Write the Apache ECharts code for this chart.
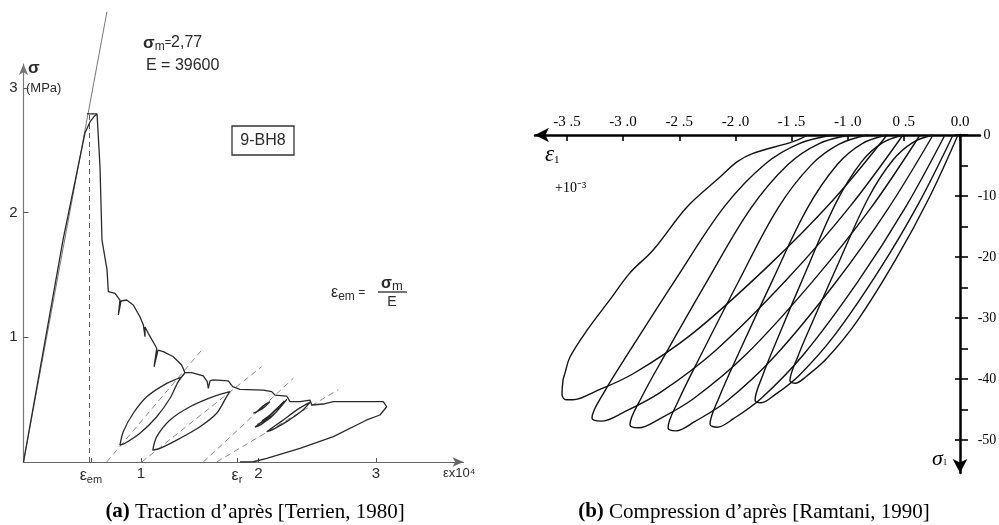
<!DOCTYPE html>
<html><head><meta charset="utf-8">
<script src="https://cdn.jsdelivr.net/npm/echarts@6/dist/echarts.min.js"></script>
<style>html,body{margin:0;padding:0;background:#fff}#c{width:999px;height:525px}</style>
</head><body><div id="c"></div>
<script>
// ---------- tick labels ----------
const leftXTickValues = [0.574, 1, 1.817, 2, 3];
const leftXTickLabels = ['{e|ε}{s|em}', '1', '{e|ε}{s|r}', '2', '3'];
const leftYTickValues = [1, 2, 3];
const leftYTickLabels = ['1', '2', '3'];
const rightXTickValues = [-3.5, -3, -2.5, -2, -1.5, -1, -0.5, 0];
const rightXTickLabels = ['-3 .5', '-3 .0', '-2 .5', '-2 .0', '-1 .5', '-1 .0', '0 .5', '0.0'];
const rightYTickValues = [0, -10, -20, -30, -40, -50];
const rightYTickLabels = ['{c|0}', '{c|-10}', '{c|-20}', '{c|-30}', '{c|-40}', '{c|-50}'];
const rightYMinorTickValues = [-5, -15, -25, -35, -45];

// ---------- (a) traction : strain x1e-4, stress MPa ----------
const leftEnvelope = [[0,0],[0.336,1.780],[0.523,2.638],[0.566,2.727],[0.600,2.770],[0.626,2.791],[0.651,2.366],[0.668,1.780],[0.711,1.540],[0.722,1.366],[0.779,1.353],[0.821,1.299],[0.807,1.179],[0.830,1.291],[0.878,1.299],[0.934,1.259],[0.991,1.165],[1.020,1.099],[1.034,1.005],[1.034,1.083],[1.062,1.032],[1.134,0.912],[1.111,0.764],[1.145,0.898],[1.190,0.885],[1.275,0.844],[1.346,0.778],[1.374,0.716],[1.431,0.716],[1.530,0.690],[1.564,0.644],[1.573,0.591],[1.587,0.650],[1.615,0.658],[1.743,0.650],[1.780,0.604],[1.843,0.583],[2.041,0.577],[2.112,0.564],[2.140,0.537],[2.240,0.529],[2.268,0.484],[2.353,0.484],[2.438,0.497],[2.453,0.457],[2.551,0.465],[2.637,0.484],[2.779,0.484],[3.062,0.484],[3.091,0.443],[3.034,0.377],[2.921,0.337],[2.637,0.203],[2.353,0.110],[2.070,0.030],[1.956,0.002],[1.843,0]];
const leftPeakFlat = [[0.540,2.791],[0.626,2.791]];
const leftLoop1 = [[1.374,0.716],[1.346,0.684],[1.219,0.631],[1.049,0.524],[0.934,0.391],[0.849,0.243],[0.821,0.136],[0.864,0.150],[0.991,0.230],[1.134,0.363],[1.247,0.511],[1.317,0.644],[1.374,0.716]];
const leftLoop2 = [[1.757,0.564],[1.615,0.524],[1.417,0.443],[1.247,0.337],[1.134,0.203],[1.100,0.096],[1.162,0.110],[1.332,0.190],[1.502,0.283],[1.644,0.391],[1.729,0.524],[1.757,0.564]];
const leftLoop3 = [[2.098,0.484],[2.04,0.45],[1.98,0.40],[1.956,0.391],[1.99,0.405],[2.05,0.44],[2.098,0.484]];
const leftLoop4 = [[2.24,0.50],[2.15,0.42],[2.04,0.33],[1.97,0.28],[2.02,0.30],[2.12,0.37],[2.24,0.50],[2.13,0.40],[2.03,0.32],[1.99,0.30],[2.05,0.33],[2.15,0.40],[2.22,0.49],[2.10,0.38],[2.03,0.33],[2.06,0.35],[2.14,0.41],[2.20,0.47]];
const leftLoop5 = [[2.44,0.48],[2.33,0.42],[2.20,0.33],[2.07,0.243],[2.12,0.26],[2.25,0.33],[2.37,0.41],[2.44,0.48]];
const leftSlopeE = [[0,0],[0.71,3.61]];
const leftEpsEm = [[0.562,0],[0.562,2.791]];
const leftDash1 = [[0.708,0],[1.517,0.898]];
const leftDash2 = [[1.006,0],[2.027,0.764]];
const leftDash3 = [[1.530,0],[2.296,0.671]];
const leftDash4 = [[1.644,0],[2.679,0.580]];

// ---------- (b) compression : strain x1e-3, stress MPa ----------
const rightLoopA = [[-0.650,0],[-1.142,-10.9],[-1.721,-21.7],[-2.386,-32.6],[-2.907,-39.1],[-3.255,-42.1],[-3.446,-43.4],[-3.508,-43.4],[-3.544,-42.6],[-3.535,-40.2],[-3.517,-39.0],[-3.473,-36.4],[-3.321,-32.0],[-3.117,-27.0],[-2.939,-22.6],[-2.734,-18.9],[-2.431,-11.8],[-2.137,-6.9],[-1.986,-4.4],[-1.843,-3.0],[-1.487,-1.1],[-1.354,0]];
const rightLoopB = [[-0.508,0],[-0.979,-11.7],[-1.533,-23.5],[-2.169,-35.2],[-2.668,-42.2],[-3.000,-45.5],[-3.194,-46.9],[-3.277,-46.4],[-3.170,-42.2],[-2.934,-35.2],[-2.526,-23.5],[-2.097,-11.7],[-1.732,-4.7],[-1.431,-1.4],[-1.131,0]];
const rightLoopC = [[-0.356,0],[-0.795,-12.0],[-1.312,-24.0],[-1.906,-36.0],[-2.371,-43.2],[-2.681,-46.6],[-2.862,-48.0],[-2.939,-47.5],[-2.841,-43.2],[-2.626,-36.0],[-2.253,-24.0],[-1.862,-12.0],[-1.529,-4.8],[-1.254,-1.4],[-0.980,0]];
const rightLoopD = [[-0.240,0],[-0.641,-12.1],[-1.113,-24.3],[-1.656,-36.4],[-2.081,-43.7],[-2.364,-47.0],[-2.529,-48.5],[-2.600,-48.0],[-2.511,-43.7],[-2.316,-36.4],[-1.980,-24.3],[-1.625,-12.1],[-1.324,-4.9],[-1.076,-1.5],[-0.828,0]];
const rightLoopE = [[-0.134,0],[-0.490,-12.0],[-0.908,-24.0],[-1.389,-35.9],[-1.766,-43.1],[-2.017,-46.5],[-2.163,-47.9],[-2.226,-47.4],[-2.147,-43.1],[-1.974,-35.9],[-1.674,-24.0],[-1.359,-12.0],[-1.091,-4.8],[-0.871,-1.4],[-0.650,0]];
const rightLoopF = [[-0.062,0],[-0.362,-11.0],[-0.714,-22.0],[-1.120,-32.9],[-1.437,-39.5],[-1.649,-42.6],[-1.772,-43.9],[-1.825,-43.5],[-1.759,-39.5],[-1.614,-32.9],[-1.364,-22.0],[-1.101,-11.0],[-0.877,-4.4],[-0.692,-1.3],[-0.508,0]];
const rightLoopG = [[-0.018,0],[-0.272,-10.2],[-0.572,-20.4],[-0.916,-30.5],[-1.185,-36.6],[-1.364,-39.5],[-1.469,-40.7],[-1.514,-40.3],[-1.450,-36.6],[-1.310,-30.5],[-1.068,-20.4],[-0.813,-10.2],[-0.597,-4.1],[-0.418,-1.2],[-0.240,0]];

const SANS = 'Liberation Sans';
const SERIF = 'Liberation Serif';
const INK_A = '#2a2a2a';

function lab(values, labels) {
  return function (v) {
    for (let i = 0; i < values.length; i++) if (Math.abs(values[i] - v) < 1e-9) return labels[i];
    return '';
  };
}
function ln(data, panel, extra) {
  const s = {
    type: 'line', data: data, symbol: 'none', silent: true, animation: false,
    xAxisIndex: panel, yAxisIndex: panel,
    lineStyle: { color: panel === 0 ? INK_A : '#111', width: panel === 0 ? 1.3 : 1.4 }
  };
  return Object.assign(s, extra || {});
}
const dashStyle = { color: '#888', width: 1, type: [6, 4] };

const chart = echarts.init(document.getElementById('c'), null, { renderer: 'canvas' });
chart.setOption({
  backgroundColor: '#fff',
  animation: false,
  grid: [
    { left: 23.5, top: 64, width: 440, height: 398, outerBoundsMode: 'none', containLabel: false },
    { left: 535, top: 135, width: 445, height: 338, outerBoundsMode: 'none', containLabel: false }
  ],
  xAxis: [
    {
      gridIndex: 0, type: 'value', min: 0, max: 440 / 117.5,
      axisLine: { show: true, onZero: false, symbol: ['none', 'arrow'], symbolSize: [7, 11], lineStyle: { color: '#666', width: 1.2 } },
      axisTick: { show: true, inside: true, length: 4, customValues: leftXTickValues, lineStyle: { color: '#555' } },
      axisLabel: {
        customValues: leftXTickValues, formatter: lab(leftXTickValues, leftXTickLabels), margin: 4,
        color: INK_A, fontSize: 15, fontFamily: SANS,
        rich: { e: { fontSize: 16, fontFamily: SANS, color: INK_A }, s: { fontSize: 11, fontFamily: SANS, color: INK_A, padding: [8, 0, 0, 0] } }
      },
      splitLine: { show: false }
    },
    {
      gridIndex: 1, type: 'value', min: -425 / 112.3, max: 20 / 112.3, position: 'top',
      axisLine: { show: true, onZero: false, symbol: ['arrow', 'none'], symbolSize: [11, 14], lineStyle: { color: '#000', width: 2.5 } },
      axisTick: { show: true, inside: true, length: 6, customValues: rightXTickValues, lineStyle: { color: '#000', width: 1.6 } },
      axisLabel: { customValues: rightXTickValues, formatter: lab(rightXTickValues, rightXTickLabels), margin: 5, color: '#000', fontSize: 15, fontFamily: SERIF },
      splitLine: { show: false }
    }
  ],
  yAxis: [
    {
      gridIndex: 0, type: 'value', min: 0, max: 398 / 124.7,
      axisLine: { show: true, onZero: false, symbol: ['none', 'arrow'], symbolSize: [7, 11], lineStyle: { color: '#777', width: 1.2 } },
      axisTick: { show: true, inside: true, length: 5, customValues: leftYTickValues, lineStyle: { color: '#555' } },
      axisLabel: { customValues: leftYTickValues, formatter: lab(leftYTickValues, leftYTickLabels), margin: 6, color: INK_A, fontSize: 15, fontFamily: SANS },
      splitLine: { show: false }
    },
    {
      gridIndex: 1, type: 'value', min: -338 / 6.1, max: 0, position: 'right', offset: -20,
      axisLine: { show: true, onZero: false, symbol: ['arrow', 'none'], symbolSize: [11, 14], lineStyle: { color: '#000', width: 2.5 } },
      axisTick: { show: true, inside: false, length: 8, customValues: rightYTickValues.concat(rightYMinorTickValues), lineStyle: { color: '#000', width: 1.6 } },
      axisLabel: { customValues: rightYTickValues, formatter: lab(rightYTickValues, rightYTickLabels), margin: 15, color: '#000',
        rich: { c: { width: 24, align: 'center', fontSize: 14, fontFamily: SERIF, color: '#000' } } },
      splitLine: { show: false }
    },
    {
      gridIndex: 1, type: 'value', min: -338 / 6.1, max: 0, position: 'left', offset: -425,
      axisLine: { show: false, onZero: false },
      axisTick: { show: true, inside: false, length: 5, customValues: rightYTickValues, lineStyle: { color: '#000', width: 1.6 } },
      axisLabel: { show: false },
      splitLine: { show: false }
    }
  ],
  series: [
    ln(leftSlopeE, 0, { clip: false, lineStyle: { color: '#666', width: 0.9 } }),
    ln(leftEpsEm, 0, { lineStyle: { color: '#555', width: 1, type: [5, 4] } }),
    ln(leftDash1, 0, { lineStyle: dashStyle }),
    ln(leftDash2, 0, { lineStyle: dashStyle }),
    ln(leftDash3, 0, { lineStyle: dashStyle }),
    ln(leftDash4, 0, { lineStyle: dashStyle }),
    ln(leftPeakFlat, 0),
    ln(leftEnvelope, 0),
    ln(leftLoop1, 0, { smooth: 0.3 }),
    ln(leftLoop2, 0, { smooth: 0.3 }),
    ln(leftLoop3, 0, { smooth: 0.3 }),
    ln(leftLoop4, 0, { smooth: 0.3 }),
    ln(leftLoop5, 0, { smooth: 0.3 }),
    ln(rightLoopA, 1, { smooth: 0.35 }),
    ln(rightLoopB, 1, { smooth: 0.35 }),
    ln(rightLoopC, 1, { smooth: 0.35 }),
    ln(rightLoopD, 1, { smooth: 0.35 }),
    ln(rightLoopE, 1, { smooth: 0.35 }),
    ln(rightLoopF, 1, { smooth: 0.35 }),
    ln(rightLoopG, 1, { smooth: 0.35 })
  ],
  graphic: [
    // (a) annotations
    { type: 'text', x: 28, y: 68, style: { text: 'σ', font: 'bold 17px ' + SANS, fill: INK_A, verticalAlign: 'middle', textVerticalAlign: 'middle' } },
    { type: 'text', x: 26, y: 88, style: { text: '(MPa)', font: '13px ' + SANS, fill: INK_A, verticalAlign: 'middle', textVerticalAlign: 'middle' } },
    { type: 'text', x: 143, y: 43, style: { text: '{g|σ}{s|m}{q|=}{v|2,77}', fill: INK_A, verticalAlign: 'middle', textVerticalAlign: 'middle',
        rich: { g: { fontSize: 17, fontWeight: 'bold', fontFamily: SANS, fill: INK_A }, s: { fontSize: 12, fontFamily: SANS, fill: INK_A, padding: [8, 0, 0, 0] }, q: { fontSize: 11, fontFamily: SANS, fill: INK_A }, v: { fontSize: 16, fontFamily: SANS, fill: INK_A } } } },
    { type: 'text', x: 146, y: 66, style: { text: 'E = 39600', font: '16px ' + SANS, fill: INK_A, verticalAlign: 'middle', textVerticalAlign: 'middle' } },
    { type: 'rect', shape: { x: 232, y: 126, width: 62, height: 29 }, style: { fill: 'none', stroke: '#333', lineWidth: 1.3 } },
    { type: 'text', x: 263, y: 141, style: { text: '9-BH8', font: '16px ' + SANS, fill: INK_A, align: 'center', textAlign: 'center', verticalAlign: 'middle', textVerticalAlign: 'middle' } },
    { type: 'text', x: 331, y: 293, style: { text: '{e|ε}{s|em}{q| =}', fill: INK_A, verticalAlign: 'middle', textVerticalAlign: 'middle',
        rich: { e: { fontSize: 16, fontFamily: SANS, fill: INK_A }, s: { fontSize: 12, fontFamily: SANS, fill: INK_A, padding: [8, 0, 0, 0] }, q: { fontSize: 12, fontFamily: SANS, fill: INK_A } } } },
    { type: 'text', x: 392, y: 284, style: { text: '{g|σ}{s|m}', fill: INK_A, align: 'center', textAlign: 'center', verticalAlign: 'middle', textVerticalAlign: 'middle',
        rich: { g: { fontSize: 16, fontWeight: 'bold', fontFamily: SANS, fill: INK_A }, s: { fontSize: 13, fontFamily: SANS, fill: INK_A, padding: [5, 0, 0, 0] } } } },
    { type: 'line', shape: { x1: 378, y1: 292, x2: 407, y2: 292 }, style: { stroke: INK_A, lineWidth: 1.3 } },
    { type: 'text', x: 392, y: 302, style: { text: 'E', font: '14px ' + SANS, fill: INK_A, align: 'center', textAlign: 'center', verticalAlign: 'middle', textVerticalAlign: 'middle' } },
    { type: 'text', x: 443, y: 473, style: { text: 'εx10⁴', font: '13px ' + SANS, fill: INK_A, verticalAlign: 'middle', textVerticalAlign: 'middle' } },
    // (b) annotations
    { type: 'text', x: 545, y: 155, style: { text: '{e|ε}{s|1}', fill: '#000', verticalAlign: 'middle', textVerticalAlign: 'middle',
        rich: { e: { fontSize: 23, fontStyle: 'italic', fontFamily: SERIF, fill: '#000' }, s: { fontSize: 11, fontFamily: SERIF, fill: '#000', padding: [10, 0, 0, 0] } } } },
    { type: 'text', x: 555, y: 188, style: { text: '+10⁻³', font: '14px ' + SERIF, fill: '#000', verticalAlign: 'middle', textVerticalAlign: 'middle' } },
    { type: 'text', x: 932, y: 459, style: { text: '{e|σ}{s|1}', fill: '#000', verticalAlign: 'middle', textVerticalAlign: 'middle',
        rich: { e: { fontSize: 22, fontStyle: 'italic', fontFamily: SERIF, fill: '#000' }, s: { fontSize: 9, fontFamily: SERIF, fill: '#000', padding: [8, 0, 0, 0] } } } },
    // captions
    { type: 'text', x: 255, y: 512, style: { text: '{b|(a)} Traction d’après [Terrien, 1980]', font: '21px ' + SERIF, fill: '#000', align: 'center', textAlign: 'center', verticalAlign: 'middle', textVerticalAlign: 'middle',
        rich: { b: { fontSize: 21, fontWeight: 'bold', fontFamily: SERIF, fill: '#000' } } } },
    { type: 'text', x: 754, y: 512, style: { text: '{b|(b)} Compression d’après [Ramtani, 1990]', font: '21px ' + SERIF, fill: '#000', align: 'center', textAlign: 'center', verticalAlign: 'middle', textVerticalAlign: 'middle',
        rich: { b: { fontSize: 21, fontWeight: 'bold', fontFamily: SERIF, fill: '#000' } } } }
  ]
});
</script></body></html>
